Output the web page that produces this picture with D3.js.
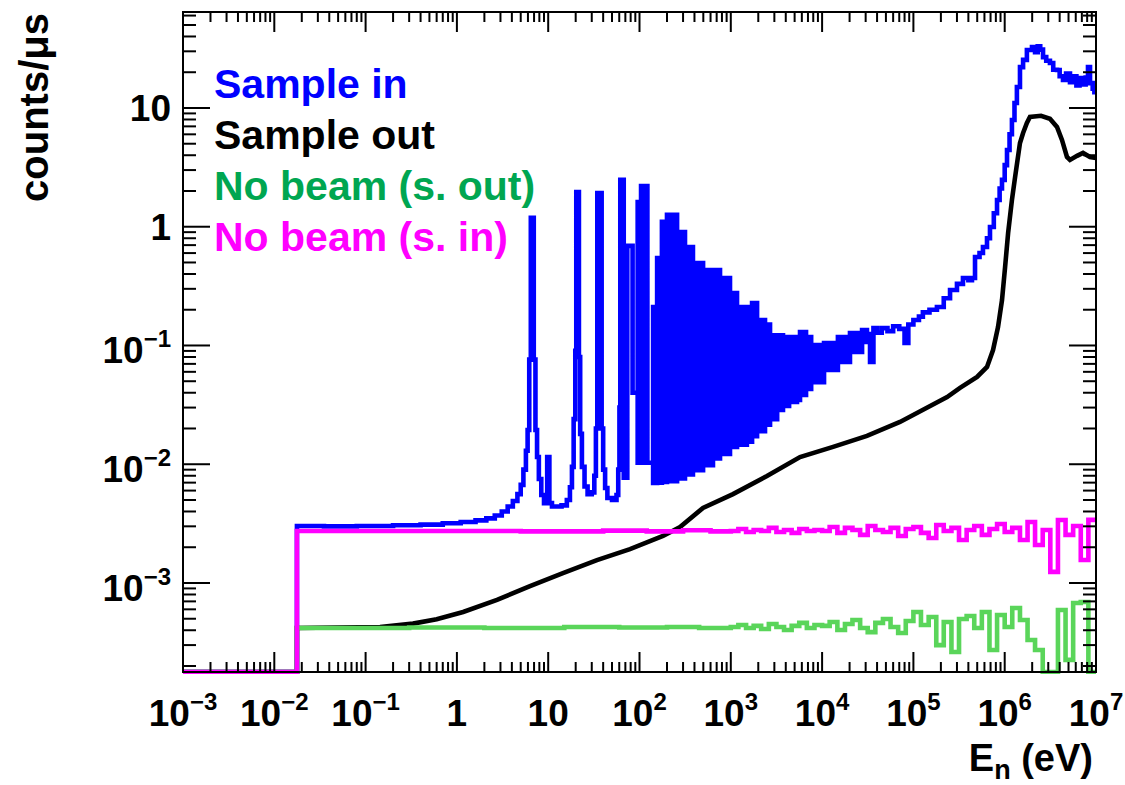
<!DOCTYPE html>
<html>
<head>
<meta charset="utf-8">
<script src="https://cdnjs.cloudflare.com/ajax/libs/d3/7.8.5/d3.min.js"></script>
<style>
  body { margin: 0; background: #fff; }
  text { font-family: "Liberation Sans", Arial, Helvetica, sans-serif; font-weight: bold; }
</style>
</head>
<body>
<div id="chart"></div>
<script>
// ---- data ----
var xTickValues = [1e-3, 1e-2, 1e-1, 1, 10, 1e2, 1e3, 1e4, 1e5, 1e6, 1e7];
var xTickLabels = [["10","\u22123"],["10","\u22122"],["10","\u22121"],["1",""],["10",""],
                   ["10","2"],["10","3"],["10","4"],["10","5"],["10","6"],["10","7"]];
var yTickValues = [1e-3, 1e-2, 1e-1, 1, 10];
var yTickLabels = [["10","\u22123"],["10","\u22122"],["10","\u22121"],["1",""],["10",""]];

var legendNames  = ["Sample in", "Sample out", "No beam (s. out)", "No beam (s. in)"];
var legendColors = ["#0000ff", "#000000", "#00a651", "#ff00ff"];

// sample in, below the resonance forest: [E left edge, counts/us]
var sampleInLow = [[0.001,0],[0.0177,0.00302],[0.035,0.00300],[0.08,0.00302],[0.2,0.00306],[0.4,0.0031],
  [0.7,0.00318],[1.1,0.00326],[1.6,0.00337],[2.1,0.0035],[2.6,0.0037],[3.1,0.004],[3.6,0.0044],
  [4.1,0.0049],[4.6,0.0056],[5.0,0.0067],[5.35,0.009],[5.7,0.013],[5.95,0.0194],[6.2,0.076],
  [6.45,1.19],[6.95,0.076],[7.25,0.0194],[7.55,0.0115],[7.9,0.0075],[8.4,0.0055],[9.0,0.0047],
  [9.75,0.0115],[10.3,0.0047],[11.0,0.0044],[14.0,0.0045],[16.0,0.005],[17.3,0.0064],[18.2,0.0095],
  [19.0,0.024],[19.8,0.09],[20.3,1.96],[21.7,0.08],[22.4,0.018],[23.4,0.0095],[25,0.0065],
  [27,0.0056],[30,0.0058],[32,0.008],[33.3,0.02],[34.5,1.92],[38.5,0.02],[40,0.009],[42,0.0063],
  [44.5,0.0052],[50,0.005],[56,0.0055],[58.5,0.009],[60.3,0.03],[61.6,2.48],[67.2,0.0077],
  [73.5,0.69],[84,0.04],[95.5,0.04]];

// resonance forest drawn as a band: left edges, upper and lower envelopes
var bandE  = [95.5,104,122,141,156,176,200,258,315,385,497,638,762,980,1170,1500,1710,1940,2370,2690,3220,
              3730,4350,5310,5730,6670,7590,10500,14900,20200,27400,31000];
var bandHi = [1.61,2.2,0.0103,0.211,0.545,1.10,1.26,0.90,0.675,0.495,0.432,0.432,0.37,0.277,0.211,0.211,0.228,
              0.164,0.150,0.122,0.122,0.118,0.118,0.118,0.13,0.118,0.101,0.105,0.118,0.127,0.135,0.135];
var bandLo = [0.0103,0.0103,0.0103,0.00695,0.0070,0.0071,0.0072,0.0076,0.0082,0.0089,0.0098,0.0112,0.0122,0.0140,0.0146,
              0.0155,0.0172,0.019,0.0215,0.024,0.0286,0.031,0.0334,0.0347,0.0383,0.043,0.0491,
              0.0622,0.0726,0.088,0.107,0.107];

var sampleInHigh = [[31000,0.125],[33500,0.0726],[36500,0.14],[40000,0.128],[45000,0.14],[52000,0.132],
  [60000,0.145],[70000,0.138],[80000,0.105],[88000,0.15],[100000,0.164],[115000,0.175],[127000,0.19],
  [150000,0.2],[181000,0.211],[215000,0.25],[252000,0.293],[300000,0.33],[349000,0.37],[400000,0.355],
  [438000,0.37],[473000,0.556],[530000,0.6],[578000,0.675],[640000,0.8],[690000,0.995],[760000,1.3],
  [824000,1.68],[880000,2.1],[934000,2.48],[1.0e6,3.3],[1.06e6,4.43],[1.13e6,6.0],[1.2e6,7.92],
  [1.28e6,11],[1.36e6,15],[1.47e6,22.1],[1.59e6,25.4],[1.75e6,30.8],[1.99e6,32.6],[2.15e6,29.5],
  [2.3e6,33],[2.45e6,31],[2.63e6,26.8],[2.85e6,25],[3.13e6,23.9],[3.4e6,21],[3.74e6,20.9],
  [4.0e6,18.5],[4.35e6,17.2],[4.7e6,19.5],[5.19e6,16.5],[5.6e6,18.5],[6.1e6,15.5],[6.6e6,17.9],
  [7.21e6,15.8],[7.7e6,18],[8.17e6,22.1],[8.6e6,16.2],[9.2e6,14.5],[9.6e6,13.6],[1e7,13.6]];

// sample out (smooth, drawn through read points)
var sampleOut = [[0.001,0],[0.0177,0],[0.0177,4.18e-4],[0.144,4.26e-4],[0.33,4.55e-4],[0.6,4.95e-4],
  [1.17,5.7e-4],[2.75,7.2e-4],[6.32,9.4e-4],[14.5,1.21e-3],[34.2,1.56e-3],[78.7,1.93e-3],[181,2.49e-3],
  [278,2.96e-3],[496,4.29e-3],[1057,5.6e-3],[2490,7.96e-3],[5730,0.0115],[13200,0.014],[31000,0.0173],
  [71300,0.0227],[2.34e5,0.0368],[3.24e5,0.0439],[4.98e5,0.0543],[6.4e5,0.066],[7.45e5,0.0916],
  [8.45e5,0.143],[9.34e5,0.241],[1.01e6,0.458],[1.09e6,0.885],[1.2e6,1.68],[1.3e6,2.62],[1.47e6,5.07],
  [1.59e6,6.16],[1.75e6,7.48],[1.89e6,8.4],[2.5e6,8.6],[3.13e6,8.1],[3.74e6,6.92],[4.24e6,5.38],
  [4.81e6,3.87],[5.19e6,3.65],[6.2e6,3.95],[7.21e6,4.18],[8.6e6,3.87],[1e7,3.8]];

// no beam, flat part below 1 keV
var noBeamOutFlat = [[0.001,0],[0.0177,4.18e-4],[0.3,4.22e-4],[2,4.18e-4],[15,4.26e-4],[60,4.22e-4],
  [200,4.26e-4],[450,4.18e-4]];
var noBeamInFlat  = [[0.001,0],[0.0177,2.74e-3],[0.5,2.74e-3],[5,2.72e-3],[40,2.76e-3],[120,2.72e-3],
  [300,2.78e-3],[600,2.72e-3]];

// no beam, noisy part above 1 keV (bin edges, values)
var noiseE = [1000,1210,1470,1780,2150,2610,3160,3830,4640,5620,6810,8250,
  10000,12100,14700,17800,21500,26100,31600,38300,46400,56200,68100,82500,
  100000,121000,147000,178000,215000,261000,316000,383000,464000,562000,681000,825000,
  1.0e6,1.21e6,1.47e6,1.78e6,2.15e6,2.61e6,3.16e6,3.83e6,4.64e6,5.62e6,6.81e6,8.25e6,1e7];
var noBeamOutNoise = [4.26e-4,4.43e-4,4.18e-4,4.35e-4,4.1e-4,4.52e-4,4.26e-4,4.02e-4,4.35e-4,4.61e-4,4.18e-4,4.43e-4,
  4.35e-4,4.7e-4,4.02e-4,4.52e-4,4.88e-4,4.18e-4,3.86e-4,4.61e-4,4.98e-4,4.26e-4,3.79e-4,4.79e-4,
  5.7e-4,4.43e-4,5.17e-4,3.0e-4,4.7e-4,2.62e-4,4.98e-4,5.27e-4,4.18e-4,5.7e-4,2.73e-4,5.38e-4,
  4.26e-4,6.15e-4,4.88e-4,3.31e-4,2.73e-4,1.5e-4,1.5e-4,5.93e-4,2.25e-4,6.79e-4,6.92e-4,1.5e-4];
var noBeamInNoise = [2.74e-3,2.85e-3,2.69e-3,2.79e-3,2.74e-3,2.91e-3,2.69e-3,2.79e-3,2.64e-3,2.85e-3,2.74e-3,2.79e-3,
  2.74e-3,2.96e-3,2.64e-3,2.91e-3,2.79e-3,2.54e-3,3.02e-3,2.79e-3,2.69e-3,2.91e-3,2.49e-3,2.85e-3,
  2.96e-3,2.64e-3,2.39e-3,3.08e-3,2.74e-3,2.91e-3,2.30e-3,2.79e-3,3.02e-3,2.54e-3,2.85e-3,3.14e-3,
  2.69e-3,2.91e-3,2.30e-3,3.26e-3,2.09e-3,2.79e-3,1.24e-3,3.39e-3,2.54e-3,3.02e-3,1.56e-3,3.4e-3];

// ---- layout ----
var size = {width: 1125, height: 785, margin: {top: 12, right: 29, bottom: 113, left: 183}};
size.w = size.width - size.margin.left - size.margin.right;
size.h = size.height - size.margin.top - size.margin.bottom;

var svg = d3.select("#chart").append("svg")
    .attr("width", size.width)
    .attr("height", size.height);

var g = svg.append("g")
    .attr("transform", "translate(" + size.margin.left + "," + size.margin.top + ")");

var ymin = 1.78e-4;
var x = d3.scaleLog().domain([1e-3, 1e7]).range([0, size.w]);
var y = d3.scaleLog().domain([ymin, 64.3]).range([size.h, 0]);
function yv(v) { return y(Math.max(v, ymin)); }

g.append("clipPath").attr("id", "frameclip")
  .append("rect").attr("x", -2).attr("y", -2).attr("width", size.w + 4).attr("height", size.h + 4);

var plot = g.append("g").attr("clip-path", "url(#frameclip)");

var histLine = d3.line()
    .x(function(d) { return x(d[0]); })
    .y(function(d) { return yv(d[1]); })
    .curve(d3.curveStepAfter);

var smoothLine = d3.line()
    .x(function(d) { return x(d[0]); })
    .y(function(d) { return yv(d[1]); });

function withNoise(flat, noise) {
  var out = flat.slice();
  noiseE.forEach(function(e, i) {
    var v = i < noise.length ? noise[i] : noise[noise.length - 1];
    out.push([e, v]);
  });
  return out;
}

var LW = 4.6;
function drawHist(data, color, line) {
  plot.append("path")
    .attr("d", (line || histLine)(data))
    .attr("fill", "none")
    .attr("stroke", color)
    .attr("stroke-width", LW)
    .attr("stroke-linejoin", "miter");
}

// sample in
var band = bandE.map(function(e, i) { return {E: e, hi: bandHi[i], lo: bandLo[i]}; });
plot.append("path")
  .attr("d", d3.area()
      .x(function(d) { return x(d.E); })
      .y0(function(d) { return yv(d.lo); })
      .y1(function(d) { return yv(d.hi); })
      .curve(d3.curveStepAfter)(band))
  .attr("fill", "#0000ff")
  .attr("stroke", "#0000ff")
  .attr("stroke-width", LW);
drawHist(sampleInLow, "#0000ff");
drawHist(sampleInHigh, "#0000ff");

// sample out
drawHist(sampleOut, "#000000", smoothLine);
// no beam
drawHist(withNoise(noBeamOutFlat, noBeamOutNoise), "#5ad55a");
drawHist(withNoise(noBeamInFlat, noBeamInNoise), "#ff00ff");

// ---- frame and ticks ----
var axes = g.append("g").attr("stroke", "#000").attr("stroke-width", 2);
axes.append("rect").attr("x", 0).attr("y", 0).attr("width", size.w).attr("height", size.h)
  .attr("fill", "none");

var xMinor = [], yMinor = [];
for (var k = -3; k < 7; k++) for (var m = 2; m <= 9; m++) xMinor.push(m * Math.pow(10, k));
for (var k = -4; k < 2; k++) for (var m = 2; m <= 9; m++) {
  var v = m * Math.pow(10, k);
  if (v > ymin && v < 64.3) yMinor.push(v);
}

function xTicks(vals, len) {
  vals.forEach(function(v) {
    var px = x(v);
    axes.append("line").attr("x1", px).attr("x2", px).attr("y1", size.h).attr("y2", size.h - len);
    axes.append("line").attr("x1", px).attr("x2", px).attr("y1", 0).attr("y2", len);
  });
}
function yTicks(vals, len) {
  vals.forEach(function(v) {
    var py = y(v);
    axes.append("line").attr("x1", 0).attr("x2", len).attr("y1", py).attr("y2", py);
    axes.append("line").attr("x1", size.w).attr("x2", size.w - len).attr("y1", py).attr("y2", py);
  });
}
xTicks(xTickValues, 20);
xTicks(xMinor, 10);
yTicks(yTickValues, 27);
yTicks(yMinor, 13);

// ---- labels ----
function label(px, py, parts, anchor) {
  var t = g.append("text")
      .attr("x", px).attr("y", py)
      .attr("text-anchor", anchor)
      .style("font-size", "37px");
  t.append("tspan").text(parts[0]);
  if (parts[1]) t.append("tspan").attr("dy", -16).style("font-size", "24px").text(parts[1]);
}

xTickValues.forEach(function(v, i) {
  label(x(v), size.h + 54, xTickLabels[i], "middle");
});
yTickValues.forEach(function(v, i) {
  var p = yTickLabels[i];
  label(-12, y(v) + (p[1] ? 18 : 13), p, "end");
});

// axis titles
var xt = g.append("text")
    .attr("x", size.w - 3).attr("y", size.h + 99)
    .attr("text-anchor", "end")
    .style("font-size", "38px");
xt.append("tspan").text("E");
xt.append("tspan").attr("dy", 8).style("font-size", "27px").text("n");
xt.append("tspan").attr("dy", -8).text(" (eV)");

svg.append("text")
    .attr("transform", "translate(48,13) rotate(-90)")
    .attr("text-anchor", "end")
    .style("font-size", "40px")
    .text("counts/\u03bcs");

// legend
legendNames.forEach(function(name, i) {
  svg.append("text")
    .attr("x", 214)
    .attr("y", 98 + i * 51)
    .attr("fill", legendColors[i])
    .style("font-size", "41px")
    .text(name);
});
</script>
</body>
</html>
